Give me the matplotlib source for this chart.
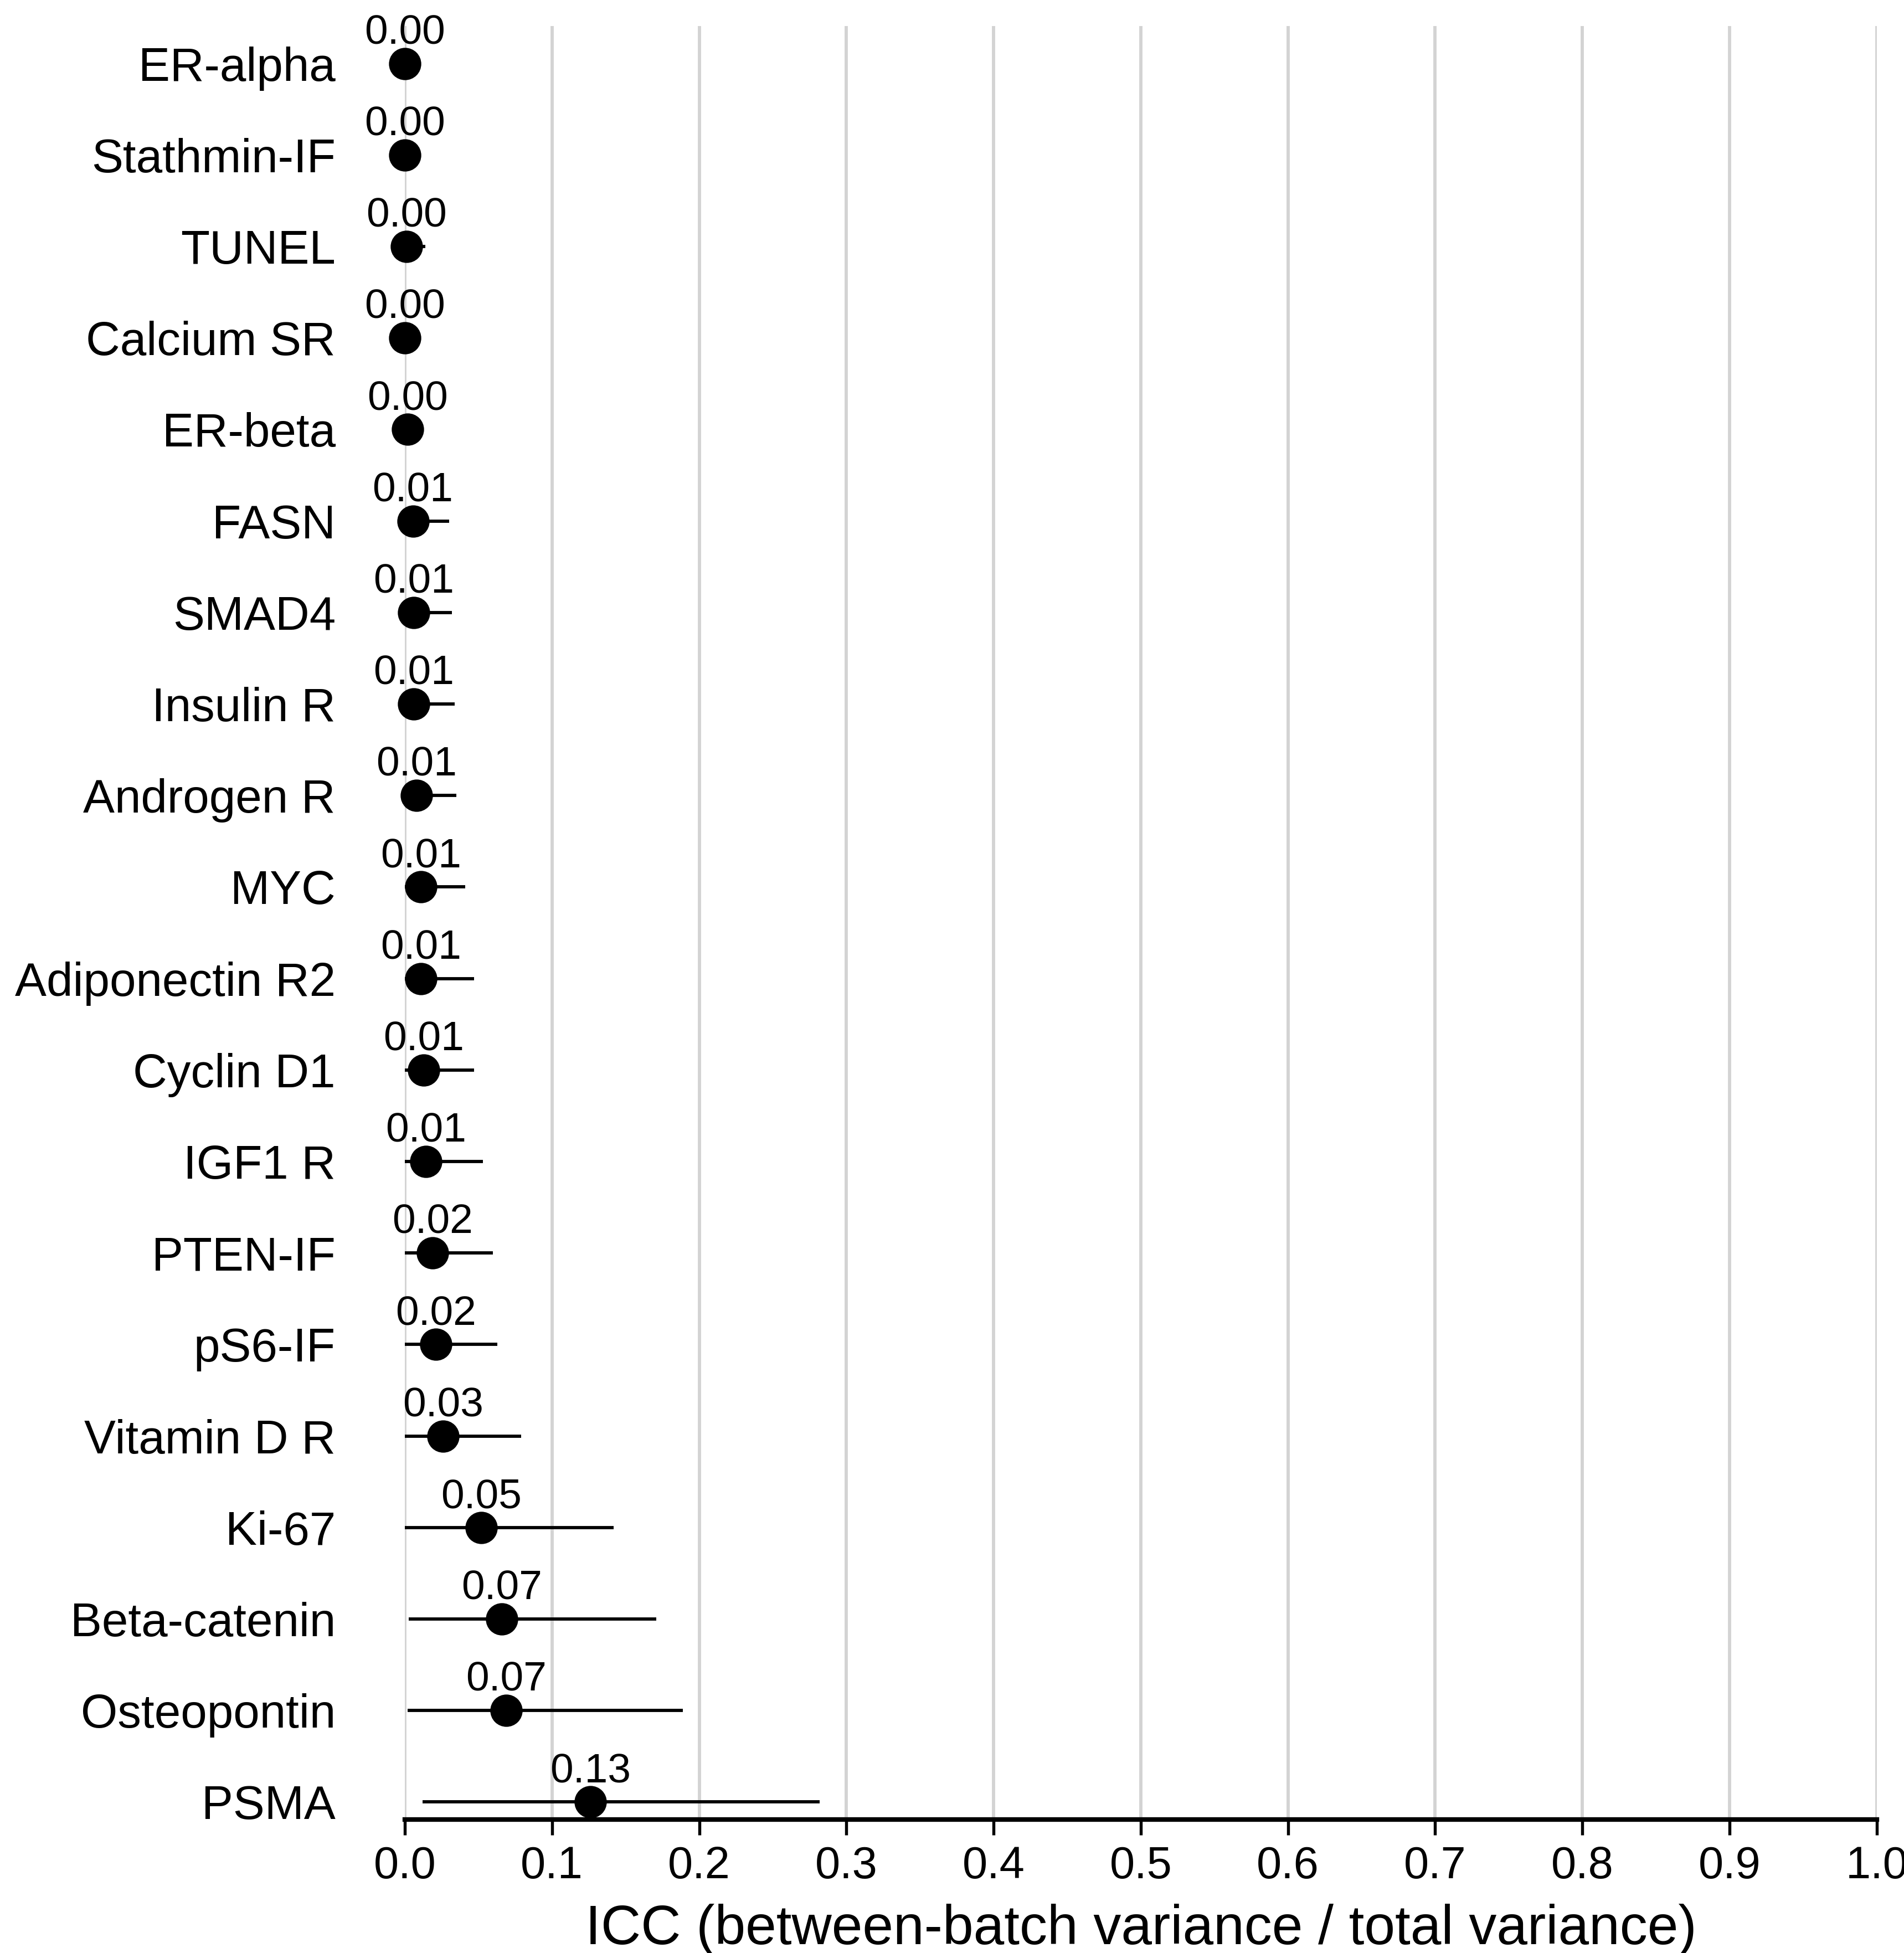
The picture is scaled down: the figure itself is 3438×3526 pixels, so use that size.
import numpy as np
import matplotlib
matplotlib.use("Agg")
import matplotlib.pyplot as plt

plt.rcParams['font.family'] = ['Liberation Sans', 'DejaVu Sans']

# markers from top to bottom
markers = ['ER-alpha', 'Stathmin-IF', 'TUNEL', 'Calcium SR', 'ER-beta', 'FASN',
           'SMAD4', 'Insulin R', 'Androgen R', 'MYC', 'Adiponectin R2',
           'Cyclin D1', 'IGF1 R', 'PTEN-IF', 'pS6-IF', 'Vitamin D R', 'Ki-67',
           'Beta-catenin', 'Osteopontin', 'PSMA']
icc = [0.000, 0.000, 0.001, 0.000, 0.002, 0.0055, 0.006, 0.006, 0.008, 0.011,
       0.011, 0.013, 0.0145, 0.019, 0.021, 0.026, 0.052, 0.066, 0.069, 0.126]
ci_low = [0.000, 0.000, 0.000, 0.000, 0.000, 0.000, 0.000, 0.000, 0.000, 0.000,
          0.000, 0.000, 0.000, 0.000, 0.000, 0.000, 0.000, 0.0025, 0.002, 0.012]
ci_high = [0.003, 0.003, 0.014, 0.004, 0.011, 0.030, 0.032, 0.034, 0.035, 0.041,
           0.047, 0.047, 0.053, 0.060, 0.063, 0.079, 0.142, 0.171, 0.189, 0.282]

n = len(markers)
y = np.arange(n)[::-1]

fig = plt.figure(figsize=(3438 / 300, 3526 / 300), dpi=300)
ax = fig.add_axes([0.2126, 0.0684, 0.7731, 0.9183])

for yi, v, lo, hi in zip(y, icc, ci_low, ci_high):
    ax.plot([lo, hi], [yi, yi], color='black', lw=1.4, solid_capstyle='butt',
            zorder=3, clip_on=False)
    ax.plot(v, yi, 'o', color='black', ms=13, zorder=4, clip_on=False)
    ax.annotate(f'{v:.2f}', (v, yi), xytext=(0, 8.5), textcoords='offset points',
                ha='center', va='baseline', fontsize=18)

ax.set_xlim(0, 1)
ax.set_ylim(-0.19, n - 1 + 0.41)
ax.set_xticks(np.arange(0, 1.01, 0.1))
ax.set_xticklabels([f'{t:.1f}' for t in np.arange(0, 1.01, 0.1)], fontsize=19.5)
ax.set_yticks(y)
ax.set_yticklabels(markers, fontsize=20.5)
ax.tick_params(axis='y', length=0, pad=30)
ax.tick_params(axis='x', length=6.8, width=1.3, pad=4.5, direction='out')

ax.grid(axis='x', color='#d3d3d3', lw=1.4, zorder=0)
ax.set_axisbelow(True)
for s in ['top', 'right', 'left']:
    ax.spines[s].set_visible(False)
ax.spines['bottom'].set_linewidth(2)
ax.spines['bottom'].set_zorder(5)

ax.set_xlabel('ICC (between-batch variance / total variance)', fontsize=24, labelpad=7)

fig.savefig('out.png', dpi=300)
